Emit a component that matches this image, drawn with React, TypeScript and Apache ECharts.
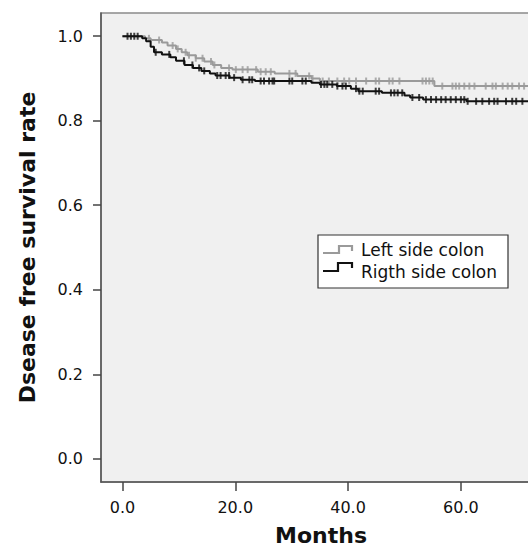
import React, { useEffect, useRef } from "react";
import * as echarts from "echarts";

const seriesNames = ["Left side colon", "Rigth side colon"];

const leftTimes = [0, 4.0, 5.0, 7.0, 8.0, 9.5, 10.5, 11.5, 13.0, 14.5, 16.0, 17.5, 19.5, 24.0, 27.0, 31.0, 33.5, 35.0, 55.3, 74.2];
const leftSurv = [1.0, 0.995, 0.991, 0.985, 0.978, 0.97, 0.962, 0.955, 0.948, 0.94, 0.932, 0.925, 0.921, 0.916, 0.912, 0.906, 0.9, 0.894, 0.882, 0.882];
const leftCensor = [4.7, 6.5, 8.9, 9.8, 11.2, 11.8, 13.0, 14.2, 15.7, 16.3, 18.9, 20.1, 21.3, 22.2, 23.7, 24.5, 25.4, 26.3, 29.6, 30.7, 33.1, 33.7, 35.5, 36.6, 38.1, 39.3, 40.2, 41.4, 43.2, 44.9, 45.5, 47.3, 47.9, 49.1, 53.2, 53.8, 54.4, 55.0, 56.7, 58.5, 59.1, 59.7, 60.6, 61.5, 62.4, 64.4, 65.6, 66.2, 67.4, 68.3, 69.1, 70.3, 71.2];

const rightTimes = [0, 3.5, 4.2, 5.0, 5.6, 7.0, 8.5, 9.5, 11.0, 12.5, 14.0, 15.5, 16.5, 19.0, 21.0, 23.5, 33.5, 35.0, 38.0, 40.5, 41.8, 46.0, 50.0, 51.0, 53.3, 61.0, 74.2];
const rightSurv = [1.0, 0.995, 0.988, 0.975, 0.962, 0.957, 0.95, 0.942, 0.932, 0.925, 0.918, 0.912, 0.907, 0.902, 0.897, 0.894, 0.89, 0.886, 0.882, 0.876, 0.87, 0.866, 0.86, 0.855, 0.85, 0.846, 0.846];
const rightCensor = [0.9, 1.5, 2.1, 2.7, 5.9, 8.3, 10.9, 12.4, 13.6, 14.5, 16.8, 17.4, 18.3, 18.9, 19.8, 21.3, 22.5, 23.0, 24.5, 25.1, 26.0, 26.6, 26.9, 29.6, 30.1, 31.9, 32.5, 35.2, 35.8, 36.3, 37.2, 38.1, 39.0, 39.6, 41.4, 42.0, 42.6, 44.9, 45.5, 47.6, 48.2, 48.8, 49.6, 51.4, 52.6, 53.8, 54.7, 55.6, 56.5, 57.3, 58.2, 59.1, 60.0, 60.6, 61.2, 62.7, 63.8, 65.0, 65.9, 66.5, 68.0, 69.1, 69.8, 70.9];

const xTicks = [0, 20, 40, 60];
const yTicks = [0, 0.2, 0.4, 0.6, 0.8, 1.0];

const FONT = "DejaVu Sans";

function survAt(times: number[], surv: number[], t: number) {
  let v = surv[0];
  for (let i = 0; i < times.length; i++) {
    if (times[i] <= t) v = surv[i];
  }
  return v;
}

export default function App() {
  const ref = useRef<HTMLDivElement>(null);
  useEffect(() => {
    if (!ref.current) return;
    const chart = echarts.init(ref.current, null, { renderer: "svg" });
    const gray = "#9a9a9a";
    const black = "#111111";
    const legendX = 318;
    const legendY = 235;
    chart.setOption({
      animation: false,
      backgroundColor: "#ffffff",
      grid: {
        left: 101,
        top: 13,
        width: 440,
        height: 470,
        show: true,
        backgroundColor: "#f0f0f0",
        borderColor: "#8a8a8a",
        borderWidth: 1.5,
      },
      xAxis: {
        type: "value",
        min: -3.8,
        max: 74.2,
        name: "Months",
        nameLocation: "middle",
        nameGap: 42,
        nameTextStyle: { fontFamily: FONT, fontSize: 22, fontWeight: "bold", color: "#111" },
        splitLine: { show: false },
        axisLine: { show: true, onZero: false, lineStyle: { color: "#555", width: 1.5 } },
        axisTick: { show: true, length: 9, customValues: xTicks, lineStyle: { color: "#444", width: 1.5 } },
        axisLabel: {
          customValues: xTicks,
          margin: 17,
          fontFamily: FONT,
          fontSize: 16,
          color: "#111",
          formatter: (v: number) => v.toFixed(1),
        },
      },
      yAxis: {
        type: "value",
        min: -0.055,
        max: 1.055,
        name: "Dsease free survival rate",
        nameLocation: "middle",
        nameGap: 63,
        nameTextStyle: { fontFamily: FONT, fontSize: 22, fontWeight: "bold", color: "#111" },
        splitLine: { show: false },
        axisLine: { show: true, onZero: false, lineStyle: { color: "#555", width: 1.5 } },
        axisTick: { show: true, length: 8, customValues: yTicks, lineStyle: { color: "#444", width: 1.5 } },
        axisLabel: {
          customValues: yTicks,
          margin: 18,
          fontFamily: FONT,
          fontSize: 16,
          color: "#111",
          formatter: (v: number) => v.toFixed(1),
        },
      },
      series: [
        {
          name: seriesNames[0],
          type: "line",
          step: "end",
          symbol: "none",
          lineStyle: { color: gray, width: 2 },
          data: leftTimes.map((t, i) => [t, leftSurv[i]]),
          z: 2,
        },
        {
          name: seriesNames[0] + " censored",
          type: "scatter",
          symbol: "rect",
          symbolSize: [2, 7],
          itemStyle: { color: gray },
          data: leftCensor.map((t) => [t, survAt(leftTimes, leftSurv, t)]),
          z: 3,
        },
        {
          name: seriesNames[1],
          type: "line",
          step: "end",
          symbol: "none",
          lineStyle: { color: black, width: 2 },
          data: rightTimes.map((t, i) => [t, rightSurv[i]]),
          z: 4,
        },
        {
          name: seriesNames[1] + " censored",
          type: "scatter",
          symbol: "rect",
          symbolSize: [2, 7],
          itemStyle: { color: black },
          data: rightCensor.map((t) => [t, survAt(rightTimes, rightSurv, t)]),
          z: 5,
        },
      ],
      graphic: [
        {
          type: "rect",
          shape: { x: legendX, y: legendY, width: 190, height: 53 },
          style: { fill: "#ffffff", stroke: "#333", lineWidth: 1.2 },
          z: 100,
        },
        {
          type: "polyline",
          shape: { points: [[legendX + 5, legendY + 18], [legendX + 21, legendY + 18], [legendX + 21, legendY + 11], [legendX + 34, legendY + 11], [legendX + 34, legendY + 16]] },
          style: { stroke: gray, lineWidth: 2.2, fill: "none" },
          z: 101,
        },
        {
          type: "polyline",
          shape: { points: [[legendX + 5, legendY + 36], [legendX + 20, legendY + 36], [legendX + 20, legendY + 28], [legendX + 34, legendY + 28], [legendX + 34, legendY + 33]] },
          style: { stroke: black, lineWidth: 2.2, fill: "none" },
          z: 101,
        },
        {
          type: "text",
          x: legendX + 43,
          y: legendY + 15,
          style: { text: seriesNames[0], fontFamily: FONT, fontSize: 17, fill: "#111", verticalAlign: "middle", align: "left" },
          z: 101,
        },
        {
          type: "text",
          x: legendX + 43,
          y: legendY + 37,
          style: { text: seriesNames[1], fontFamily: FONT, fontSize: 17, fill: "#111", verticalAlign: "middle", align: "left" },
          z: 101,
        },
      ],
    });
    return () => chart.dispose();
  }, []);
  return (
    <div style={{ position: "fixed", left: 0, top: 0, width: 528, height: 551, overflow: "hidden", background: "#fff" }}>
      <div ref={ref} style={{ width: 600, height: 551 }} />
    </div>
  );
}
